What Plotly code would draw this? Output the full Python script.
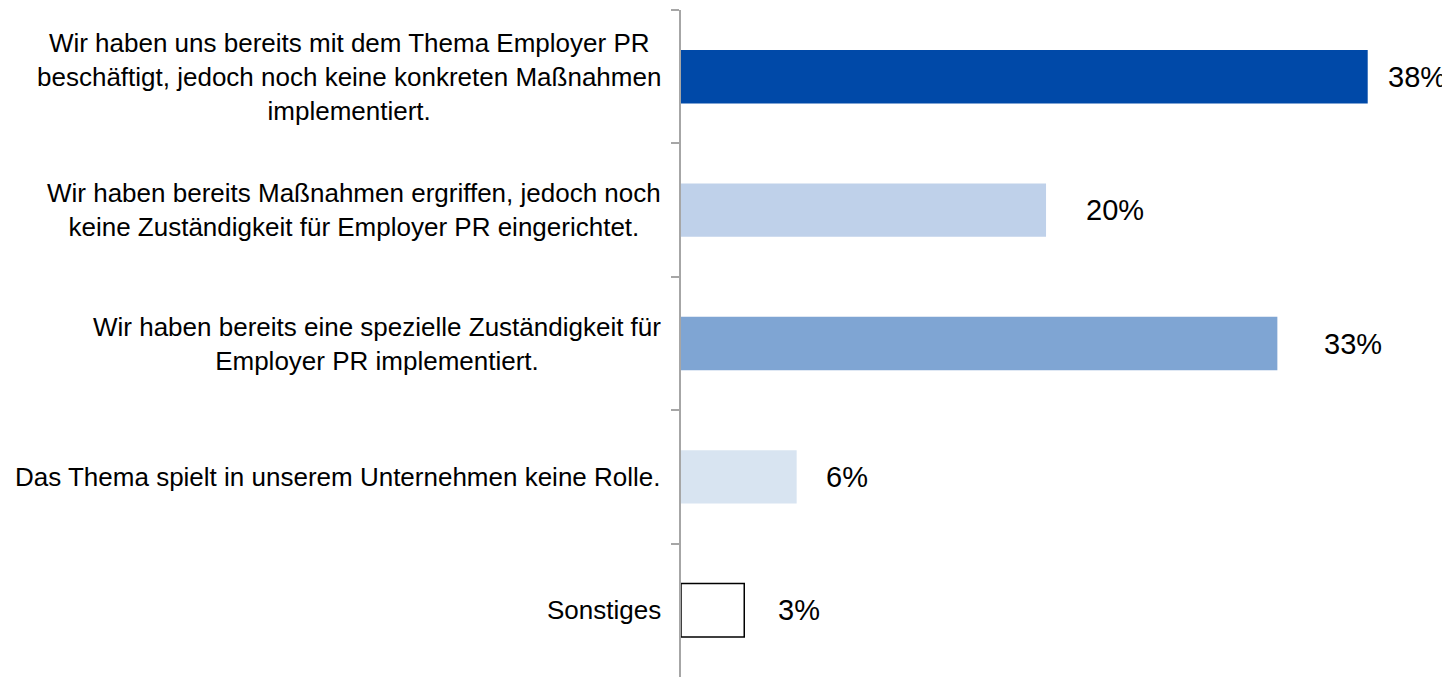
import plotly.graph_objects as go

# ---- data ----
categories = [
    "Wir haben uns bereits mit dem Thema Employer PR<br>beschäftigt, jedoch noch keine konkreten Maßnahmen<br>implementiert.",
    "Wir haben bereits Maßnahmen ergriffen, jedoch noch<br>keine Zuständigkeit für Employer PR eingerichtet.",
    "Wir haben bereits eine spezielle Zuständigkeit für<br>Employer PR implementiert.",
    "Das Thema spielt in unserem Unternehmen keine Rolle.",
    "Sonstiges",
]
values = [38.0, 20.2, 33.0, 6.4, 3.5]
value_labels = ["38%", "20%", "33%", "6%", "3%"]

bar_colors = ["#0049A8", "#BFD1EA", "#7FA5D3", "#D8E4F1", "#FFFFFF"]
line_colors = ["rgba(0,0,0,0)"] * 4 + ["#000000"]
line_widths = [0, 0, 0, 0, 1.5]
label_shifts = [18, 38, 45, 27, 32]

fig = go.Figure()

# ---- bars ----
fig.add_trace(
    go.Bar(
        x=values,
        y=categories,
        orientation="h",
        marker=dict(color=bar_colors, line=dict(color=line_colors, width=line_widths)),
        hoverinfo="skip",
        showlegend=False,
    )
)

# ---- value labels right of bars ----
for cat, val, lab, shift in zip(categories, values, value_labels, label_shifts):
    fig.add_annotation(
        x=val,
        y=cat,
        text=lab,
        xanchor="left",
        xshift=shift,
        showarrow=False,
        font=dict(family="Liberation Sans, Arial", size=29, color="#000000"),
    )

# ---- category labels (centred blocks, right-aligned to the axis) ----
for cat in categories:
    fig.add_annotation(
        x=0,
        xref="paper",
        y=cat,
        text=cat,
        xanchor="right",
        align="center",
        xshift=-18,
        showarrow=False,
        font=dict(family="Liberation Sans, Arial", size=26, color="#000000"),
    )

fig.update_layout(
    width=1442,
    height=669,
    margin=dict(l=673, r=10, t=2, b=0),
    plot_bgcolor="white",
    paper_bgcolor="white",
    bargap=0.6,
    xaxis=dict(range=[0, 42], visible=False, fixedrange=True),
    yaxis=dict(
        autorange="reversed",
        showticklabels=False,
        showline=True,
        linecolor="#A6A6A6",
        linewidth=1.5,
        ticks="outside",
        tickson="boundaries",
        ticklen=8,
        tickcolor="#A6A6A6",
        tickwidth=1.5,
        showgrid=False,
        zeroline=False,
    ),
)

fig.write_html("out.html")
